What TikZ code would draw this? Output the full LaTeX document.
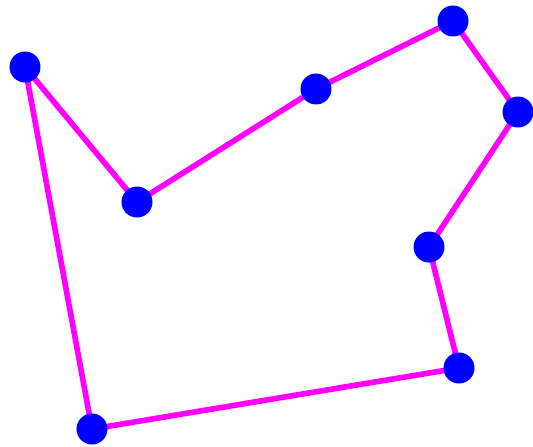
\documentclass[tikz,border=0pt]{standalone}
\usepackage{xcolor}
\usepackage{tikz}
\definecolor{edgemag}{RGB}{255,0,255}
\definecolor{dotblue}{RGB}{0,0,255}

\begin{document}
\begin{tikzpicture}[x=0.02cm, y=-0.02cm]
\useasboundingbox (0,0) rectangle (533,446);
\coordinate (A) at (25,67);
\coordinate (B) at (137,202);
\coordinate (C) at (316,89);
\coordinate (D) at (453,21);
\coordinate (E) at (518,112);
\coordinate (F) at (429,247);
\coordinate (G) at (459,368);
\coordinate (H) at (92,429);
\draw[edgemag, line width=3.2pt] (A) -- (B) -- (C) -- (D) -- (E) -- (F) -- (G) -- (H) -- cycle;
\foreach \p in {A,B,C,D,E,F,G,H}{
    \fill[dotblue] (\p) circle (15.5);
}
\end{tikzpicture}
\end{document}
